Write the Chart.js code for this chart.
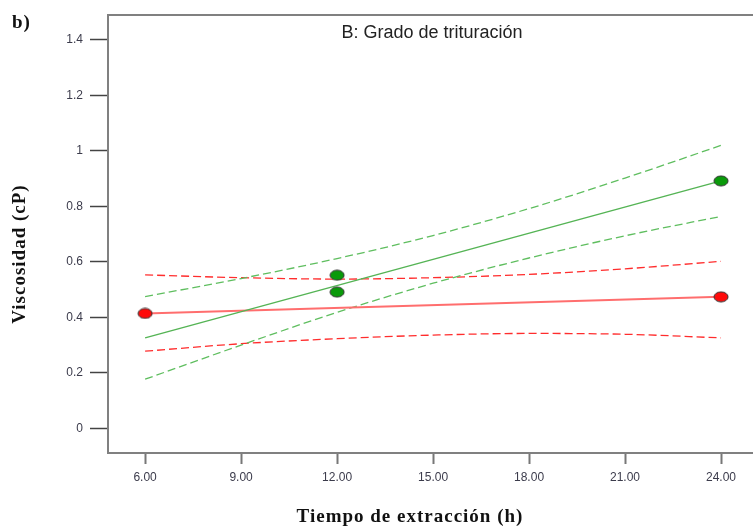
<!DOCTYPE html>
<html>
<head>
<meta charset="utf-8">
<script src="https://cdn.jsdelivr.net/npm/chart.js@4.4.1/dist/chart.umd.min.js"></script>
<style>
  html, body { margin: 0; padding: 0; background: #fff; overflow: hidden; }
  #wrap { position: relative; width: 753px; height: 529px; overflow: hidden; }
  #panel { position: absolute; left: 12px; top: 11px; font: bold 19px "Liberation Serif", "DejaVu Serif", serif; letter-spacing: 1px; color: #111; }
</style>
</head>
<body>
<div id="wrap">
  <canvas id="c" width="760" height="529"></canvas>
  <div id="panel">b)</div>
</div>
<script>
// ===== Interaction plot: Viscosidad vs Tiempo de extracción =====
const xTicks = [6, 9, 12, 15, 18, 21, 24];
const yTicks = [0, 0.2, 0.4, 0.6, 0.8, 1, 1.2, 1.4];

// confidence bands read at the x ticks
const bandX = [6, 9, 12, 15, 18, 21, 24];
const greenUpper = [0.475, 0.540, 0.612, 0.695, 0.792, 0.902, 1.020];
const greenLower = [0.177, 0.300, 0.418, 0.523, 0.614, 0.694, 0.764];
const redUpper   = [0.553, 0.543, 0.538, 0.543, 0.555, 0.575, 0.602];
const redLower   = [0.278, 0.305, 0.323, 0.336, 0.342, 0.339, 0.326];

// fitted lines (end points)
const fitX = [6, 24];
const greenFit = [0.326, 0.892];
const redFit = [0.414, 0.474];

// design points
const greenPtsX = [12, 12, 24];
const greenPtsY = [0.552, 0.491, 0.892];
const redPtsX = [6, 24];
const redPtsY = [0.414, 0.474];

const pts = (xs, ys) => xs.map((x, i) => ({ x, y: ys[i] }));

function ellipse(fill) {
  const c = document.createElement('canvas');
  c.width = 16; c.height = 12;
  const g = c.getContext('2d');
  g.beginPath();
  g.ellipse(8, 6, 7, 5, 0, 0, Math.PI * 2);
  g.fillStyle = fill; g.fill();
  g.lineWidth = 1; g.strokeStyle = '#333'; g.stroke();
  return c;
}

const dash = (label, ys, color) => ({
  type: 'line', label, data: pts(bandX, ys), borderColor: color, borderWidth: 1.3,
  borderDash: [8, 4], pointRadius: 0, tension: 0.4, cubicInterpolationMode: 'monotone', order: 3
});
const fit = (label, ys, color, w) => ({
  type: 'line', label, data: pts(fitX, ys), borderColor: color, borderWidth: w, pointRadius: 0, order: 2
});
const dots = (label, xs, ys, fill) => ({
  type: 'scatter', label, data: pts(xs, ys), pointStyle: ellipse(fill), pointRadius: 6, order: 1
});

const boxAndText = {
  id: 'boxAndText',
  afterDraw(chart) {
    const { ctx, chartArea: a } = chart;
    ctx.save();
    ctx.strokeStyle = '#808080'; ctx.lineWidth = 2;
    ctx.beginPath(); ctx.moveTo(a.left, a.top); ctx.lineTo(a.right, a.top); ctx.stroke();
    ctx.fillStyle = '#222';
    ctx.font = '18px "Liberation Sans", Arial, sans-serif';
    ctx.textAlign = 'center'; ctx.textBaseline = 'middle';
    ctx.fillText('B: Grado de trituración', 432, 33);
    ctx.fillStyle = '#111';
    ctx.font = 'bold 19px "Liberation Serif", "DejaVu Serif", serif';
    ctx.letterSpacing = '1px';
    ctx.fillText('Tiempo de extracción (h)', 410, 517);
    ctx.translate(20, 254); ctx.rotate(-Math.PI / 2);
    ctx.fillText('Viscosidad (cP)', 0, 0);
    ctx.restore();
  }
};

new Chart(document.getElementById('c'), {
  data: {
    datasets: [
      dash('Sup. verde', greenUpper, 'rgb(95,190,95)'),
      dash('Inf. verde', greenLower, 'rgb(95,190,95)'),
      dash('Sup. rojo', redUpper, 'rgb(255,45,45)'),
      dash('Inf. rojo', redLower, 'rgb(255,45,45)'),
      fit('Ajuste verde', greenFit, 'rgb(85,180,85)', 1.5),
      fit('Ajuste rojo', redFit, 'rgb(255,110,110)', 2),
      dots('Verde', greenPtsX, greenPtsY, '#0a9a0a'),
      dots('Rojo', redPtsX, redPtsY, '#ff0a0a')
    ]
  },
  options: {
    responsive: false, animation: false,
    layout: { padding: { top: 15, left: 0, right: 0, bottom: 0 } },
    plugins: { legend: { display: false }, tooltip: { enabled: false } },
    scales: {
      x: {
        type: 'linear', min: 4.84, max: 25,
        afterBuildTicks: s => { s.ticks = xTicks.map(v => ({ value: v })); },
        afterFit: s => { s.height = 76; },
        grid: { drawOnChartArea: false, tickLength: 11, tickWidth: 2, tickColor: '#777' },
        border: { color: '#808080', width: 2 },
        ticks: { padding: 6, color: '#3b3b4b', font: { family: '"Liberation Sans", Arial, sans-serif', size: 12 },
          callback: v => v.toFixed(2) }
      },
      y: {
        type: 'linear', min: -0.089, max: 1.49,
        afterBuildTicks: s => { s.ticks = yTicks.map(v => ({ value: v })); },
        afterFit: s => { s.width = 108; },
        grid: { drawOnChartArea: false, tickLength: 18, tickWidth: 1.5, tickColor: '#444' },
        border: { color: '#808080', width: 2 },
        ticks: { padding: 7, color: '#3b3b4b', font: { family: '"Liberation Sans", Arial, sans-serif', size: 12 },
          callback: v => String(Math.round(v * 10) / 10) }
      }
    }
  },
  plugins: [boxAndText]
});
</script>
</body>
</html>
